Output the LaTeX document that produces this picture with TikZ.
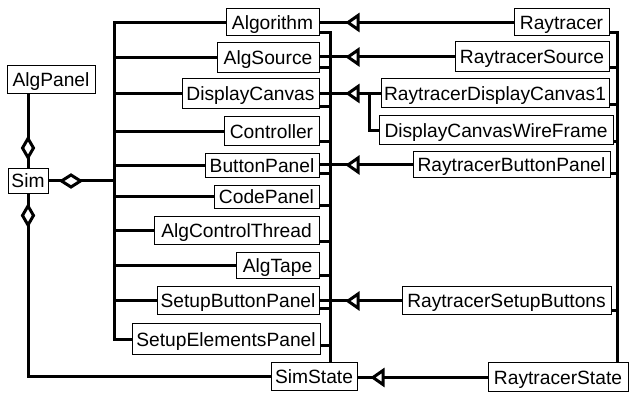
\documentclass[tikz,border=0pt]{standalone}
\usepackage{fontspec}
\setmainfont{Liberation Sans}
\usetikzlibrary{calc}
\begin{document}
\begin{tikzpicture}[x=0.75pt,y=-0.75pt,
  box/.style={draw, line width=0.75pt, inner sep=0pt, fill=white,
    font=\fontsize{14.4}{16}\selectfont, text height=10.3pt, text depth=0pt},
  sz/.style 2 args={minimum width=#1*0.75pt, minimum height=#2*0.75pt},
  conn/.style={line width=2.25pt},
  gentri/.pic={\draw[line width=2.25pt, fill=white] (0,0) -- (10,-7) -- (10,7) -- cycle;},
  aggv/.pic={\draw[line width=2.25pt, fill=white] (0,-9.5) -- (5.5,0) -- (0,9.5) -- (-5.5,0) -- cycle;},
  aggh/.pic={\draw[line width=2.25pt, fill=white] (-9.5,0) -- (0,-6) -- (9.5,0) -- (0,6) -- cycle;}
]
\useasboundingbox (0,0) rectangle (636,402);

% left column
\node[box, sz={88}{28}] (AlgPanel) at (51,80) {AlgPanel};
\node[box, sz={40}{25}] (Sim) at (28,181) {Sim};

% middle column
\node[box, sz={93}{27}]  (Algorithm) at (272.5,22.5) {Algorithm};
\node[box, sz={102}{30}] (AlgSource) at (268,58) {AlgSource};
\node[box, sz={137}{30}] (DisplayCanvas) at (250.5,94) {DisplayCanvas};
\node[box, sz={95}{29}]  (Controller) at (271.5,131.5) {Controller};
\node[box, sz={114}{24}] (ButtonPanel) at (262,165.5) {ButtonPanel};
\node[box, sz={105}{23}] (CodePanel) at (266.5,197) {CodePanel};
\node[box, sz={165}{28}] (AlgControlThread) at (236.5,231) {AlgControlThread};
\node[box, sz={83}{26}]  (AlgTape) at (277.5,266) {AlgTape};
\node[box, sz={162}{28}] (SetupButtonPanel) at (238,301) {SetupButtonPanel};
\node[box, sz={188}{31}] (SetupElementsPanel) at (226,339.5) {SetupElementsPanel};
\node[box, sz={86}{28}]  (SimState) at (314,377) {SimState};

% right column
\node[box, sz={95}{27}]  (Raytracer) at (561.5,22.5) {Raytracer};
\node[box, sz={154}{30}] (RaytracerSource) at (532,57) {RaytracerSource};
\node[box, sz={228}{29}] (RaytracerDisplayCanvas1) at (495,93.5) {RaytracerDisplayCanvas1};
\node[box, sz={234}{29}] (DisplayCanvasWireFrame) at (496,130.5) {DisplayCanvasWireFrame};
\node[box, sz={197}{26}] (RaytracerButtonPanel) at (511.5,165) {RaytracerButtonPanel};
\node[box, sz={209}{28}] (RaytracerSetupButtons) at (506.5,301) {RaytracerSetupButtons};
\node[box, sz={140}{29}] (RaytracerState) at (558,377.5) {RaytracerState};

% bus coordinates
\coordinate (lb) at (114,0);
\coordinate (mb) at (330,0);
\coordinate (rb) at (617,0);
\coordinate (jn) at (369,93.5);

% left bus
\draw[conn] (Algorithm.west) -- (Algorithm.west -| lb) -- (lb |- SetupElementsPanel.west) -- (SetupElementsPanel.west);
\foreach \n in {AlgSource,DisplayCanvas,Controller,ButtonPanel,CodePanel,AlgControlThread,AlgTape,SetupButtonPanel}
  \draw[conn] (\n.west) -- (\n.west -| lb);

% Sim connections
\draw[conn] (Sim.east) -- (Sim.east -| lb);
\draw[conn] (Sim.north) -- (Sim.north |- AlgPanel.south);
\draw[conn] (Sim.south) -- (Sim.south |- SimState.west) -- (SimState.west);
\pic at (28,148) {aggv};
\pic at (28,215.5) {aggv};
\pic at (71,181) {aggh};

% middle bus to SimState
\draw[conn] ([yshift=3pt]Algorithm.south east) coordinate (s0) -- (s0 -| mb) -- (mb |- SimState.north);
\foreach \n/\d in {AlgSource/4.5pt,DisplayCanvas/2.25pt,Controller/3.75pt,ButtonPanel/3pt,CodePanel/2.25pt,AlgControlThread/3pt,AlgTape/3pt,SetupButtonPanel/5.25pt,SetupElementsPanel/7.5pt}
  \draw[conn] ([yshift=\d]\n.south east) coordinate (s) -- (s -| mb);

% right bus to RaytracerState
\draw[conn] ([yshift=3pt]Raytracer.south east) coordinate (r0) -- (r0 -| rb) -- (rb |- RaytracerState.north);
\foreach \n/\d in {RaytracerSource/3.75pt,RaytracerDisplayCanvas1/3pt,DisplayCanvasWireFrame/3pt,RaytracerButtonPanel/3.75pt,RaytracerSetupButtons/3.75pt}
  \draw[conn] ([yshift=\d]\n.south east) coordinate (r) -- (r -| rb);

% generalizations
\draw[conn] (Raytracer.west) -- (Raytracer.west -| Algorithm.east);
\draw[conn] (RaytracerSource.west) -- (RaytracerSource.west -| AlgSource.east);
\draw[conn] (RaytracerDisplayCanvas1.west) -- (RaytracerDisplayCanvas1.west -| DisplayCanvas.east);
\draw[conn] (jn) |- (DisplayCanvasWireFrame.west);
\draw[conn] (RaytracerButtonPanel.west) -- (RaytracerButtonPanel.west -| ButtonPanel.east);
\draw[conn] (RaytracerSetupButtons.west) -- (RaytracerSetupButtons.west -| SetupButtonPanel.east);
\draw[conn] (RaytracerState.west) -- (RaytracerState.west -| SimState.east);
\pic at (348,22.5) {gentri};
\pic at (348,57) {gentri};
\pic at (348,93.5) {gentri};
\pic at (348,165) {gentri};
\pic at (348,301) {gentri};
\pic at (373,377.5) {gentri};
\end{tikzpicture}
\end{document}
